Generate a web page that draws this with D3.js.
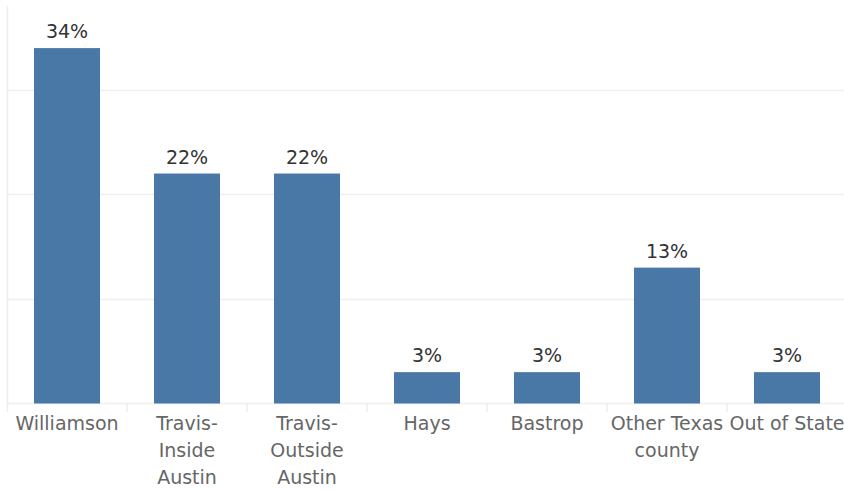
<!DOCTYPE html>
<html>
<head>
<meta charset="utf-8">
<script src="https://cdn.jsdelivr.net/npm/d3@7"></script>
<style>
  html, body { margin: 0; padding: 0; background: #fff; }
  svg { display: block; }
  text { font-family: "DejaVu Sans", sans-serif; }
</style>
</head>
<body>
<svg id="chart" width="844" height="489"></svg>
<script>
// Share of residents by county of residence
const categories = [
  ["Williamson"],
  ["Travis-", "Inside", "Austin"],
  ["Travis-", "Outside", "Austin"],
  ["Hays"],
  ["Bastrop"],
  ["Other Texas", "county"],
  ["Out of State"]
];
const shares = [0.34, 0.22, 0.22, 0.03, 0.03, 0.13, 0.03];
const gridValues = [0.10, 0.20, 0.30];

const W = 844, H = 489;
const plot = { left: 8, right: 848, top: 0, bottom: 403.5 };

const svg = d3.select("#chart");

const x = d3.scaleBand()
  .domain(d3.range(categories.length))
  .range([plot.left - 1, plot.right - 1])
  .paddingInner(0.45)
  .paddingOuter(0.225);

const y = d3.scaleLinear()
  .domain([0, 0.386])
  .range([plot.bottom, 0]);

// horizontal gridlines
svg.append("g")
  .selectAll("line")
  .data(gridValues)
  .join("line")
  .attr("x1", plot.left).attr("x2", W)
  .attr("y1", d => Math.round(y(d)) + 0.5)
  .attr("y2", d => Math.round(y(d)) + 0.5)
  .attr("stroke", "#efefef")
  .attr("stroke-width", 1.5);

// baseline
svg.append("line")
  .attr("x1", plot.left).attr("x2", W)
  .attr("y1", plot.bottom).attr("y2", plot.bottom)
  .attr("stroke", "#efefef")
  .attr("stroke-width", 1.5);

// left axis line
svg.append("line")
  .attr("x1", plot.left - 0.5).attr("x2", plot.left - 0.5)
  .attr("y1", 6).attr("y2", 412)
  .attr("stroke", "#eeeeee")
  .attr("stroke-width", 1.5);

// category separators below the baseline
const step = x.step();
svg.append("g")
  .selectAll("line")
  .data(d3.range(1, categories.length))
  .join("line")
  .attr("x1", i => x(i) - step * 0.225)
  .attr("x2", i => x(i) - step * 0.225)
  .attr("y1", plot.bottom).attr("y2", 412)
  .attr("stroke", "#eeeeee")
  .attr("stroke-width", 1.5);

// bars
svg.append("g")
  .selectAll("rect")
  .data(shares)
  .join("rect")
  .attr("x", (d, i) => x(i))
  .attr("width", x.bandwidth())
  .attr("y", d => y(d))
  .attr("height", d => plot.bottom - y(d))
  .attr("fill", "#4a78a6");

// value labels
svg.append("g")
  .selectAll("text")
  .data(shares)
  .join("text")
  .attr("x", (d, i) => x(i) + x.bandwidth() / 2)
  .attr("y", d => y(d) - 10)
  .attr("text-anchor", "middle")
  .attr("font-size", 19)
  .attr("fill", "#333")
  .text(d => d3.format(".0%")(d));

// category labels
const labels = svg.append("g")
  .selectAll("text")
  .data(categories)
  .join("text")
  .attr("x", (d, i) => x(i) + x.bandwidth() / 2)
  .attr("y", 430)
  .attr("text-anchor", "middle")
  .attr("font-size", 19)
  .attr("fill", "#666");

labels.selectAll("tspan")
  .data(d => d)
  .join("tspan")
  .attr("x", function () { return this.parentNode.getAttribute("x"); })
  .attr("dy", (d, i) => i === 0 ? 0 : 27)
  .text(d => d);
</script>
</body>
</html>
